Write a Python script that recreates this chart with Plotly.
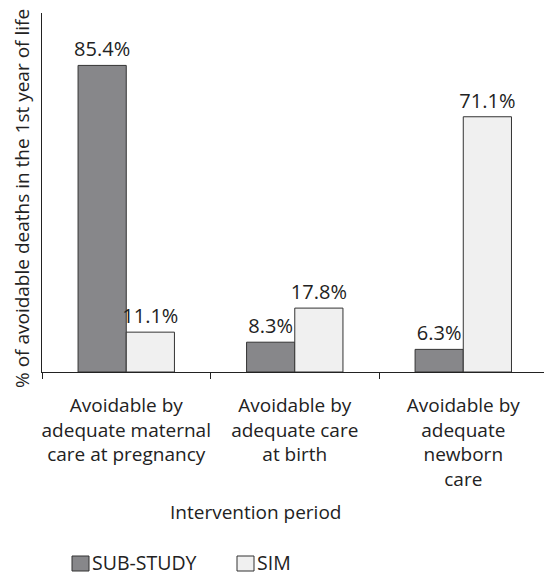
import plotly.graph_objects as go

categories = ["Avoidable by<br>adequate maternal<br>care at pregnancy",
              "Avoidable by<br>adequate care<br>at birth",
              "Avoidable by<br>adequate<br>newborn<br>care"]
sub_study = [85.4, 8.3, 6.3]
sim = [11.1, 17.8, 71.1]
series_names = ["SUB-STUDY", "SIM"]
series_colors = ["#87878a", "#f0f0f0"]

FONT = "Open Sans, Noto Sans, sans-serif"
FS = 19
L, R, T, B = 42, 0, 13, 204
W, H = 544, 576
PW, PH = W - L - R, H - T - B

def px_x(x):
    return (x - L) / PW

def px_y(y):
    return (H - B - y) / PH

fig = go.Figure()
for name, vals, col in zip(series_names, [sub_study, sim], series_colors):
    fig.add_trace(go.Bar(name=name, x=categories, y=vals,
                         marker=dict(color=col, line=dict(color="#333333", width=1)),
                         text=[f"{v}%" for v in vals], textposition="outside",
                         constraintext="none",
                         textfont=dict(size=20, color="#222222"), cliponaxis=False))

shapes = []
annotations = [
    dict(text="Intervention period", xref="paper", yref="paper",
         x=px_x(255), y=px_y(512), showarrow=False,
         xanchor="center", yanchor="middle", font=dict(size=FS)),
    dict(text="% of avoidable deaths in the 1st year of life", xref="paper", yref="paper",
         x=px_x(22), y=px_y(199), showarrow=False, textangle=-90,
         xanchor="center", yanchor="middle", font=dict(size=FS)),
]
# manual legend
leg_x = [72, 237]
for name, col, lx in zip(series_names, series_colors, leg_x):
    shapes.append(dict(type="rect", xref="paper", yref="paper",
                       x0=px_x(lx), x1=px_x(lx + 17), y0=px_y(571), y1=px_y(556),
                       fillcolor=col, line=dict(color="#333333", width=1)))
    annotations.append(dict(text=name, xref="paper", yref="paper",
                            x=px_x(lx + 18), y=px_y(562.5), showarrow=False,
                            xanchor="left", yanchor="middle", font=dict(size=19.5)))

fig.update_layout(
    width=W, height=H,
    margin=dict(l=L, r=R, t=T, b=B),
    plot_bgcolor="white", paper_bgcolor="white",
    barmode="group", bargap=0.428, bargroupgap=0,
    font=dict(family=FONT, size=FS, color="#222222"),
    showlegend=False,
    xaxis=dict(showline=True, linecolor="#222222", linewidth=1, automargin=False,
               range=[-0.5, 2.479],
               ticks="outside", tickson="boundaries", ticklen=6, tickcolor="#222222",
               tickfont=dict(size=FS), tickangle=0, ticklabelstandoff=16),
    yaxis=dict(range=[0, 100], showline=True, linecolor="#222222", linewidth=1,
               showgrid=False, showticklabels=False, ticks="", zeroline=False,
               automargin=False),
    shapes=shapes,
    annotations=annotations,
)
fig.write_html("out.html", config={"displayModeBar": False},
               post_script="document.body.style.margin='0';")
